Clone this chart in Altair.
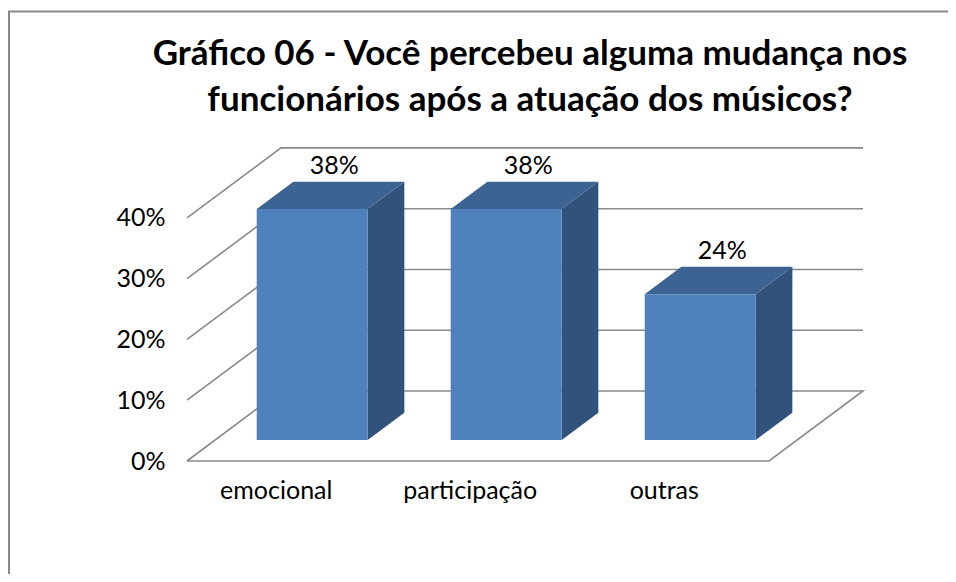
import altair as alt
import pandas as pd

# ---- data ----
categories = ["emocional", "participação", "outras"]
values = [38, 38, 24]
tick_values = [0, 10, 20, 30, 40]
title_lines = ["Gráfico 06 - Você percebeu alguma mudança nos",
               "funcionários após a atuação dos músicos?"]

# ---- 3D geometry (in data units) ----
N = len(categories)
DX = 0.4845      # depth shift along x (category units)
DY = 11.52       # depth shift along y (percent units)
BAR_W = 0.572    # bar width as fraction of category
FRONT_F = 0.30   # depth fraction where bar front face sits
BAR_D = 0.39     # bar depth fraction
Y_MAX = 52

FONT = "Lato"
GRID = "#8a8a8a"

xs = alt.Scale(domain=[0, N + DX], zero=False, nice=False)
ys = alt.Scale(domain=[0, Y_MAX], zero=False, nice=False)

# gridlines / walls / floor
g_rows = []
for v in tick_values:
    pts = [(0, v), (DX, v + DY), (N + DX, v + DY)]
    if v == 0:
        pts += [(N, 0), (0, 0)]
    for k, (x, y) in enumerate(pts):
        g_rows.append({"level": v, "o": k, "x": x, "y": y})
grid_df = pd.DataFrame(g_rows)

front_rows, top_rows, side_rows, lab_rows, cat_rows = [], [], [], [], []
for i, (c, v) in enumerate(zip(categories, values)):
    x0 = i + 0.5 - BAR_W / 2 + FRONT_F * DX
    x1 = i + 0.5 + BAR_W / 2 + FRONT_F * DX
    yb = FRONT_F * DY
    front_rows.append({"bar": c, "x0": x0, "x1": x1, "y0": yb, "y1": v + yb})
    top_rows.append({"bar": c, "y": v + yb, "xa": x0, "xb": x1})
    top_rows.append({"bar": c, "y": v + yb + BAR_D * DY, "xa": x0 + BAR_D * DX, "xb": x1 + BAR_D * DX})
    side_rows.append({"bar": c, "x": x1, "ya": yb, "yb": v + yb})
    side_rows.append({"bar": c, "x": x1 + BAR_D * DX, "ya": yb + BAR_D * DY, "yb": v + yb + BAR_D * DY})
    f = FRONT_F + 0.6 * BAR_D
    lab_rows.append({"x": i + 0.5 + f * DX, "y": v + f * DY, "t": f"{v}%"})
    cat_rows.append({"x": i + 0.46, "y": 0, "t": c})

front_df = pd.DataFrame(front_rows)
top_df = pd.DataFrame(top_rows)
side_df = pd.DataFrame(side_rows)
lab_df = pd.DataFrame(lab_rows)
cat_df = pd.DataFrame(cat_rows)
title_df = pd.DataFrame({"t": ["\n".join(title_lines)]})

grid = alt.Chart(grid_df).mark_line(color=GRID, strokeWidth=1.6).encode(
    x=alt.X("x:Q", scale=xs, axis=None),
    y=alt.Y("y:Q", scale=ys, axis=alt.Axis(values=tick_values, labelExpr="datum.value + '%'",
                                           ticks=False, domain=False, grid=False, title=None,
                                           labelFontSize=25, labelFont=FONT, labelColor="#000000",
                                           labelPadding=22)),
    detail="level:N",
    order="o:Q",
)

side = alt.Chart(side_df).mark_area(color="#31527b", opacity=1).encode(
    x=alt.X("x:Q", scale=xs, axis=None),
    y=alt.Y("ya:Q", scale=ys, stack=None),
    y2="yb:Q",
    detail="bar:N",
)

top = alt.Chart(top_df).mark_area(orient="horizontal", color="#3c6391", opacity=1).encode(
    y=alt.Y("y:Q", scale=ys, stack=None),
    x=alt.X("xa:Q", scale=xs, axis=None),
    x2="xb:Q",
    detail="bar:N",
)

front = alt.Chart(front_df).mark_rect(color="#4f81bd").encode(
    x=alt.X("x0:Q", scale=xs, axis=None),
    x2="x1:Q",
    y=alt.Y("y0:Q", scale=ys),
    y2="y1:Q",
)

labels = alt.Chart(lab_df).mark_text(font=FONT, fontSize=25, color="#000000", dy=-27,
                                     baseline="middle", align="center").encode(
    x=alt.X("x:Q", scale=xs, axis=None),
    y=alt.Y("y:Q", scale=ys),
    text="t:N",
)

cats = alt.Chart(cat_df).mark_text(font=FONT, fontSize=25, color="#000000", dy=30,
                                   baseline="middle", align="center").encode(
    x=alt.X("x:Q", scale=xs, axis=None),
    y=alt.Y("y:Q", scale=ys),
    text="t:N",
)

title = alt.Chart(title_df).mark_text(font=FONT, fontSize=35, fontWeight="bold", color="#000000",
                                      align="center", baseline="alphabetic", lineBreak="\n",
                                      lineHeight=46).encode(
    x=alt.value(343), y=alt.value(-80), text="t:N")

border_left = alt.Chart(pd.DataFrame({"k": [0]})).mark_rule(color=GRID, strokeWidth=2).encode(
    x=alt.value(-178), y=alt.value(-133.5), y2=alt.value(440))
border_top = alt.Chart(pd.DataFrame({"k": [0]})).mark_rule(color=GRID, strokeWidth=2).encode(
    x=alt.value(-179), x2=alt.value(770), y=alt.value(-133.5))

chart = alt.layer(border_left, border_top, grid, side, top, front, labels, cats, title).properties(
    width=676,
    height=316,
    padding={"left": 179, "top": 137, "right": 85, "bottom": 113},
    autosize=alt.AutoSizeParams(type="none"),
).configure_view(stroke=None)

chart.save("out.html", embed_options={"renderer": "svg", "actions": False})
